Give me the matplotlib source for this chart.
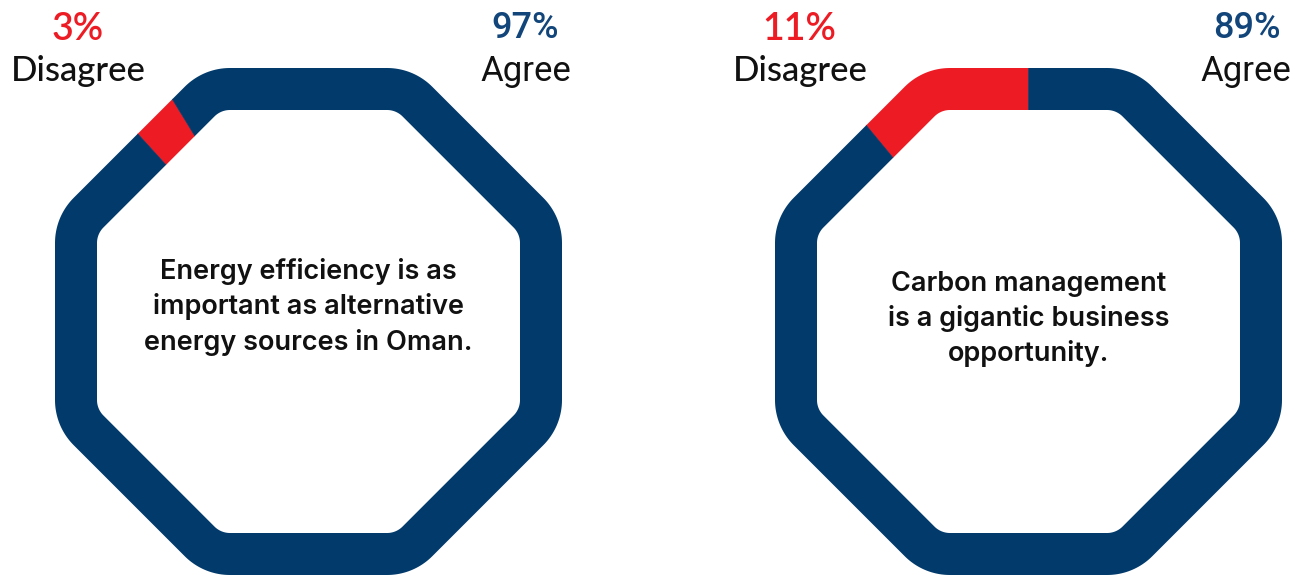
import numpy as np
import matplotlib
matplotlib.use("Agg")
import matplotlib.pyplot as plt
from matplotlib.path import Path
from matplotlib.patches import PathPatch, Wedge

# Survey results
statements = [
    "Energy efficiency is as\nimportant as alternative\nenergy sources in Oman.",
    "Carbon management\nis a gigantic business\nopportunity.",
]
agree_pct = [97, 89]
disagree_pct = [3, 11]
disagree_start_deg = [121.5, 90.0]   # where the disagree arc begins (screen angle, ccw)

NAVY = "#013a6b"
NAVY_TEXT = "#12457a"
RED = "#ed1c24"

W, H = 1296, 577
fig = plt.figure(figsize=(W / 100, H / 100), dpi=100)
ax = fig.add_axes([0, 0, 1, 1])
ax.set_xlim(0, W)
ax.set_ylim(H, 0)
ax.axis("off")

centers = [(308.5, 321.5), (1028.5, 321.5)]
text_y = [307, 319]
OUT_APOTHEM, OUT_R = 253.5, 64.0
IN_APOTHEM, IN_R = 211.5, 22.0


def rounded_octagon(cx, cy, apothem, r, n_arc=24):
    pts = []
    rc = (apothem - r) / np.cos(np.pi / 8)
    for k in range(8):
        va = np.pi / 8 + k * np.pi / 4
        vx, vy = cx + rc * np.cos(va), cy - rc * np.sin(va)
        for t in np.linspace(k * np.pi / 4, (k + 1) * np.pi / 4, n_arc):
            pts.append((vx + r * np.cos(t), vy - r * np.sin(t)))
    return np.array(pts)


def ring_path(cx, cy):
    outer = rounded_octagon(cx, cy, OUT_APOTHEM, OUT_R)
    inner = rounded_octagon(cx, cy, IN_APOTHEM, IN_R)[::-1]
    verts = np.vstack([outer, outer[:1], inner, inner[:1]])
    codes = ([Path.MOVETO] + [Path.LINETO] * (len(outer) - 1) + [Path.CLOSEPOLY]
             + [Path.MOVETO] + [Path.LINETO] * (len(inner) - 1) + [Path.CLOSEPOLY])
    return Path(verts, codes)


for i, (cx, cy) in enumerate(centers):
    ring = PathPatch(ring_path(cx, cy), facecolor="none", edgecolor="none",
                     transform=ax.transData)
    ax.add_patch(ring)
    a0 = disagree_start_deg[i]
    a1 = a0 + disagree_pct[i] * 3.6
    a2 = a1 + agree_pct[i] * 3.6
    # y axis is inverted, so screen angle a maps to data angle -a
    segs = [(a0, a1, RED), (a1, a2, NAVY)]
    for s, e, col in segs:
        w = Wedge((cx, cy), 400, -e, -s, facecolor=col, edgecolor=col,
                  linewidth=0.4)
        ax.add_patch(w)
        w.set_clip_path(ring)

    ax.text(cx, text_y[i], statements[i], ha="center", va="center",
            fontsize=19.5, family="Inter", fontweight="semibold",
            color="#111111", linespacing=1.4)

# Labels above the rings
label_pos = [((78, 29), (78, 71), (525, 29), (526, 71)),
             ((799, 29), (800, 71), (1247, 29), (1246, 71))]
for i, (dp, dl, ap, al) in enumerate(label_pos):
    ax.text(*dp, f"{disagree_pct[i]}%", ha="center", va="center",
            fontsize=27, family="Lato", fontweight="semibold", color=RED)
    ax.text(*dl, "Disagree", ha="center", va="center", fontsize=25,
            family="Lato", fontweight="medium", color="#111111")
    ax.text(*ap, f"{agree_pct[i]}%", ha="center", va="center",
            fontsize=26, family="Roboto", fontweight="medium", color=NAVY_TEXT)
    ax.text(*al, "Agree", ha="center", va="center", fontsize=25,
            family="Roboto", color="#111111")

fig.savefig("out.png", dpi=100)
